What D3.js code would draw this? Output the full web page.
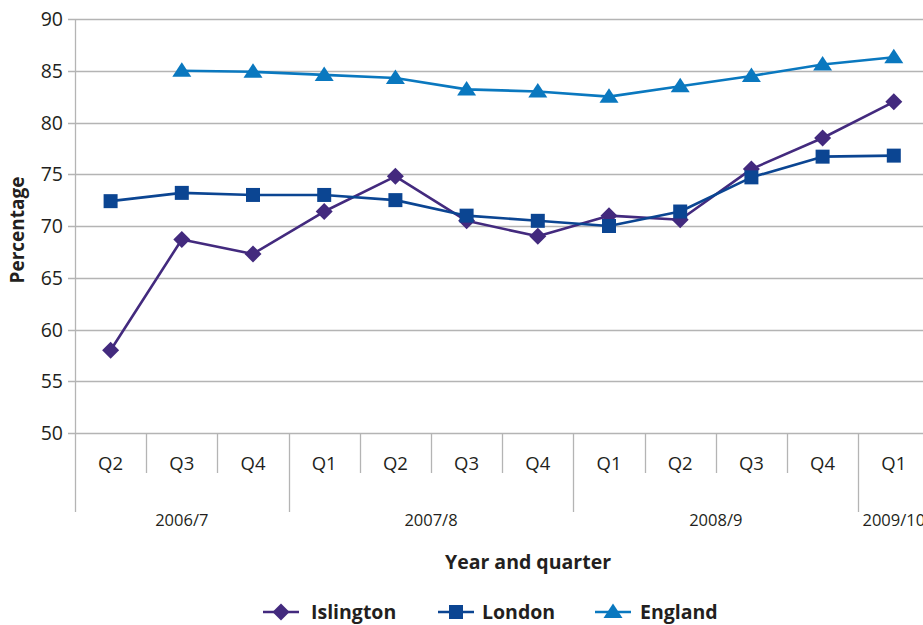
<!DOCTYPE html>
<html>
<head>
<meta charset="utf-8">
<script src="https://cdn.jsdelivr.net/npm/d3@7"></script>
<style>
  html, body { margin: 0; padding: 0; background: #fff; overflow: hidden; }
  svg { display: block; font-family: "Open Sans", "Noto Sans", sans-serif; }
</style>
</head>
<body>
<svg id="chart" width="923" height="625"></svg>
<script>
// Quarter labels along the x axis, grouped into financial years
const quarters = ["Q2", "Q3", "Q4", "Q1", "Q2", "Q3", "Q4", "Q1", "Q2", "Q3", "Q4", "Q1"];
const yearLabels = ["2006/7", "2007/8", "2008/9", "2009/10"];
const yearSpans = [3, 4, 4, 1];

// Percentage per quarter for each area (null = no data)
const islington = [58.0, 68.7, 67.3, 71.4, 74.8, 70.5, 69.0, 71.0, 70.6, 75.5, 78.5, 82.0];
const london    = [72.4, 73.2, 73.0, 73.0, 72.5, 71.0, 70.5, 70.0, 71.4, 74.7, 76.7, 76.8];
const england   = [null, 85.0, 84.9, 84.6, 84.3, 83.2, 83.0, 82.5, 83.5, 84.5, 85.6, 86.3];

const yTicks = [50, 55, 60, 65, 70, 75, 80, 85, 90];

const series = [
  { name: "Islington", values: islington, color: "#432a7e", symbol: "diamond" },
  { name: "London",    values: london,    color: "#0b4592", symbol: "square" },
  { name: "England",   values: england,   color: "#0a78bf", symbol: "triangle" }
];

const svg = d3.select("#chart");
const plotLeft = 75, plotTop = 19, plotBottom = 433;
const band = 71.2;
const plotRight = plotLeft + band * quarters.length;

const x = d3.scaleBand().domain(d3.range(quarters.length)).range([plotLeft, plotRight]).padding(0);
const y = d3.scaleLinear().domain([50, 90]).range([plotBottom, plotTop]);

const gridColor = "#b4b4b4";
const textColor = "#231f20";

// Horizontal gridlines with short ticks to the left of the axis
svg.append("g").selectAll("line").data(yTicks).join("line")
  .attr("x1", plotLeft - 7).attr("x2", plotRight)
  .attr("y1", d => Math.round(y(d)) + 0.5).attr("y2", d => Math.round(y(d)) + 0.5)
  .attr("stroke", gridColor).attr("stroke-width", 1.3);

svg.append("g").selectAll("text").data(yTicks).join("text")
  .attr("x", plotLeft - 12).attr("y", d => y(d) + 7)
  .attr("text-anchor", "end")
  .attr("font-size", 19.5).attr("fill", textColor)
  .text(d => d);

// Vertical y axis line
svg.append("line")
  .attr("x1", plotLeft + 0.5).attr("x2", plotLeft + 0.5).attr("y1", plotTop).attr("y2", plotBottom)
  .attr("stroke", gridColor).attr("stroke-width", 1.3);

// Category dividers: short between quarters, long at financial year starts
const yearStarts = new Set();
{
  let acc = 0;
  yearSpans.forEach(s => { yearStarts.add(acc); acc += s; });
  yearStarts.add(acc);
}
const boundaries = d3.range(quarters.length + 1);
const boundaryX = i => Math.round(i < quarters.length ? x(i) : plotRight) + 0.5;
svg.append("g").selectAll("line").data(boundaries).join("line")
  .attr("x1", boundaryX)
  .attr("x2", boundaryX)
  .attr("y1", plotBottom)
  .attr("y2", i => yearStarts.has(i) ? 512 : 473)
  .attr("stroke", gridColor).attr("stroke-width", 1.3);

// Quarter labels
svg.append("g").selectAll("text").data(quarters).join("text")
  .attr("x", (d, i) => x(i) + x.bandwidth() / 2)
  .attr("y", 470)
  .attr("text-anchor", "middle")
  .attr("font-size", 18.5).attr("fill", textColor)
  .text(d => d);

// Financial year labels centred under their quarters
{
  let acc = 0;
  const yearPos = yearSpans.map(s => {
    const mid = plotLeft + band * (acc + s / 2);
    acc += s;
    return mid;
  });
  svg.append("g").selectAll("text").data(yearLabels).join("text")
    .attr("x", (d, i) => yearPos[i])
    .attr("y", 526)
    .attr("text-anchor", "middle")
    .attr("font-size", 16.5).attr("fill", textColor)
    .text(d => d);
}

// Axis titles
svg.append("text")
  .attr("transform", `translate(24, ${(plotTop + plotBottom) / 2 + 4}) rotate(-90)`)
  .attr("text-anchor", "middle")
  .attr("font-size", 19).attr("font-weight", "bold").attr("fill", textColor)
  .text("Percentage");

svg.append("text")
  .attr("x", 528).attr("y", 569)
  .attr("text-anchor", "middle")
  .attr("font-size", 19.5).attr("font-weight", "bold").attr("fill", textColor)
  .text("Year and quarter");

// Marker shapes
function markerPath(symbol) {
  if (symbol === "diamond") return "M0,-8.5L8.5,0L0,8.5L-8.5,0Z";
  if (symbol === "square") return "M-7,-7H7V7H-7Z";
  return "M0,-8.5L9.5,6L-9.5,6Z";
}

const cx = i => x(i) + x.bandwidth() / 2;

series.forEach(s => {
  const pts = s.values.map((v, i) => ({ i, v })).filter(d => d.v != null);
  const line = d3.line().x(d => cx(d.i)).y(d => y(d.v));
  svg.append("path")
    .datum(pts)
    .attr("d", line)
    .attr("fill", "none")
    .attr("stroke", s.color)
    .attr("stroke-width", 2.6)
    .attr("stroke-linejoin", "round");
});

series.forEach(s => {
  const pts = s.values.map((v, i) => ({ i, v })).filter(d => d.v != null);
  svg.append("g").selectAll("path").data(pts).join("path")
    .attr("transform", d => `translate(${cx(d.i)},${y(d.v)})`)
    .attr("d", markerPath(s.symbol))
    .attr("fill", s.color);
});

// Legend
const legendX = [263, 438, 595];
const legendY = 612;
series.forEach((s, k) => {
  const g = svg.append("g").attr("transform", `translate(${legendX[k]},${legendY})`);
  g.append("line").attr("x1", 0).attr("x2", 36).attr("y1", 0).attr("y2", 0)
    .attr("stroke", s.color).attr("stroke-width", 2.6);
  g.append("path").attr("transform", "translate(18,0)").attr("d", markerPath(s.symbol))
    .attr("fill", s.color);
  g.append("text").attr("x", k === 0 ? 48 : (k === 1 ? 44 : 45)).attr("y", 7)
    .attr("font-size", 19.5).attr("font-weight", "bold").attr("fill", textColor)
    .text(s.name);
});
</script>
</body>
</html>
